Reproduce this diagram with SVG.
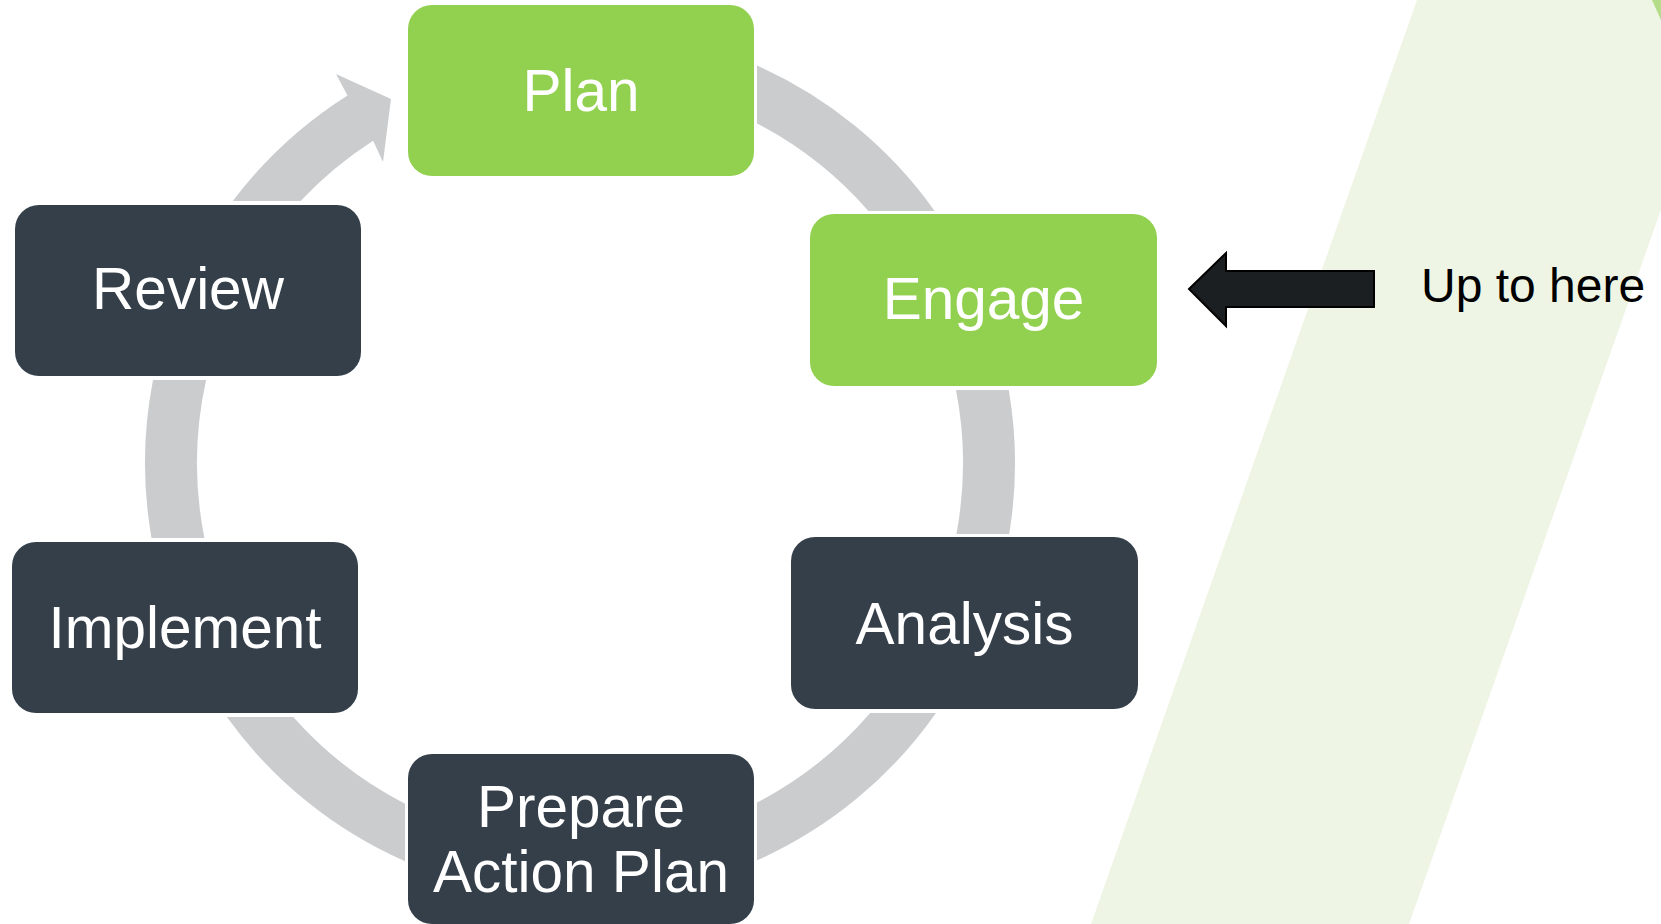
<svg xmlns="http://www.w3.org/2000/svg" width="1661" height="924" viewBox="0 0 1661 924">
<style>
.ring{fill:#CBCCCE}
.g{fill:#92D050}
.d{fill:#353F4A}
.lbl{font-family:"Liberation Sans",Arial,sans-serif;font-size:58.5px;fill:#FFFFFF;text-anchor:middle}
.note{font-family:"Liberation Sans",Arial,sans-serif;font-size:48px;fill:#000000}
</style>
<rect x="0" y="0" width="1661" height="924" fill="#FFFFFF"/>
<polygon points="1417,0 1735,0 1409,924 1091,924" fill="#EEF5E4"/>
<polygon points="1652,0 1661,0 1661,20" fill="#B5DC88"/>
<g id="connectors">
<path class="ring" d="M 757,65.6 A 435 435 0 0 1 934.6,211 L 868.4,211 A 383 383 0 0 0 757,123.4 Z"/>
<path class="ring" d="M 1008.8,390 A 435 435 0 0 1 1009.2,534 L 956.4,534 A 383 383 0 0 0 956.0,390 Z"/>
<path class="ring" d="M 936.0,713 A 435 435 0 0 1 757,860.4 L 757,802.6 A 383 383 0 0 0 870.2,713 Z"/>
<path class="ring" d="M 405,861.2 A 435 435 0 0 1 226.9,717 L 293.3,717 A 383 383 0 0 0 405,803.7 Z"/>
<path class="ring" d="M 151.5,538 A 435 435 0 0 1 153.0,380 L 206.1,380 A 383 383 0 0 0 204.4,538 Z"/>
<path class="ring" d="M 232.8,201 A 435 435 0 0 1 347.5,95.4 L 336,74 L 391,99 L 383,162 L 373.1,140.7 A 383 383 0 0 0 300.6,201 Z"/>
</g>
<g id="plan"><rect class="g" x="408" y="5" width="346" height="171" rx="24"/><text class="lbl" x="581" y="111">Plan</text></g>
<g id="engage"><rect class="g" x="810" y="214" width="347" height="172" rx="24"/><text class="lbl" x="983.5" y="319">Engage</text></g>
<g id="analysis"><rect class="d" x="791" y="537" width="347" height="172" rx="24"/><text class="lbl" x="964.5" y="644">Analysis</text></g>
<g id="prepare"><rect class="d" x="408" y="754" width="346" height="170" rx="24"/><text class="lbl" x="581" y="827">Prepare</text><text class="lbl" x="581" y="892">Action Plan</text></g>
<g id="implement"><rect class="d" x="12" y="542" width="346" height="171" rx="24"/><text class="lbl" x="185" y="648">Implement</text></g>
<g id="review"><rect class="d" x="15" y="205" width="346" height="171" rx="24"/><text class="lbl" x="188" y="309">Review</text></g>
<g id="pointer"><polygon points="1189,289 1226,253 1226,271 1374,271 1374,307 1226,307 1226,326" fill="#1C1F22" stroke="#000000" stroke-width="2" stroke-linejoin="miter"/></g>
<g id="note"><text class="note" x="1421" y="302">Up to here</text></g>
</svg>
